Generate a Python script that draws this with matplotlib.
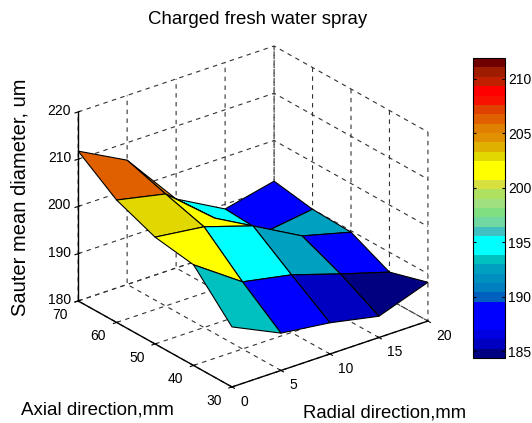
import numpy as np
import matplotlib
matplotlib.use("Agg")
import matplotlib.pyplot as plt
from matplotlib.colors import ListedColormap, Normalize
from matplotlib.cm import ScalarMappable

radial = [0, 5, 10, 15, 20]
axial = [30, 40, 50, 60, 70]
# one row per axial station
diameter = [
    [192.7, 187.9, 186.6, 184.5, 188.2],
    [201.3, 194.2, 192.2, 188.9, 185.8],
    [202.6, 201.3, 198.0, 192.4, 189.7],
    [205.9, 203.7, 195.1, 188.5, 190.0],
    [211.7, 206.3, 194.6, 189.0, 191.4],
]
# colour of each patch
patch_value = [
    [193.4, 188.7, 185.6, 184.8],
    [201.6, 194.7, 192.5, 188.7],
    [202.9, 201.6, 192.0, 192.5],
    [206.3, 205.5, 194.7, 188.7],
]
zticks = [180, 190, 200, 210, 220]
cticks = [185, 190, 195, 200, 205, 210]
cmin = 184.4
cmax = 211.9

# colorbar bands bottom to top
bands = ['#000080', '#0000c0', '#0000e0', '#0000ff', '#0000ff', '#0000ff', '#0060c0', '#0080c0',
         '#0090c0', '#00a0c0', '#00c0c0', '#00ffff', '#00ffff', '#40c0c0', '#70d8a0', '#80e080',
         '#a0e080', '#b0e060', '#d8e040', '#ffff00', '#ffff00', '#e0d800', '#e0b000', '#e09000',
         '#e08000', '#e06000', '#e04000', '#f81000', '#ff0000', '#c02000', '#a01c00', '#700000']

plt.rcParams['font.family'] = ['Liberation Sans', 'DejaVu Sans']
plt.rcParams['grid.linestyle'] = (0, (4, 4))
plt.rcParams['grid.color'] = '#333333'
plt.rcParams['grid.linewidth'] = 0.8

W = 532.0
H = 423.0
fig = plt.figure(figsize=(W / 100, H / 100), dpi=100)
cmap = ListedColormap(bands)
norm = Normalize(cmin, cmax)

side = 398.5
ax = fig.add_axes([48.4 / W, 1.9 / H, side / W, side / H], projection='3d', proj_type='ortho')
ax.view_init(elev=25.7, azim=-127.8)
ax.set_box_aspect((248, 251, 209.8))

X, Y = np.meshgrid(radial, axial)
Z = np.array(diameter)
ax.plot_surface(X, Y, Z, facecolors=cmap(norm(np.array(patch_value))), edgecolor='black',
                linewidth=0.8, shade=False, rstride=1, cstride=1, antialiased=True)

ax.set_xlim(0, 20)
ax.set_ylim(30, 70)
ax.set_zlim(180, 220)
ax.set_xticks(radial)
ax.set_yticks(axial)
ax.set_zticks(zticks)
ax.zaxis.set_ticks_position('upper')
ax.zaxis.set_label_position('upper')
for a in [ax.xaxis, ax.yaxis, ax.zaxis]:
    a.pane.set_facecolor('white')
    a.pane.set_edgecolor('white')
    a.line.set_color('black')
    a.line.set_linewidth(1.0)
ax.tick_params(labelsize=10, pad=0)

for lab in ax.xaxis.get_ticklabels():
    lab.set_ha('left')
    lab.set_va('center')
for lab in ax.yaxis.get_ticklabels():
    lab.set_ha('right')
    lab.set_va('center')
for lab in ax.zaxis.get_ticklabels():
    lab.set_va('center')

fig.text(257.5 / W, 1 - 20 / H, 'Charged fresh water spray', ha='center', va='center', fontsize=13.4)
fig.text(20 / W, 1 - 197.5 / H, 'Sauter mean diameter, um', rotation=90, ha='center', va='center', fontsize=14.5)
fig.text(97 / W, 1 - 410 / H, 'Axial direction,mm', ha='center', va='center', fontsize=13.5)
fig.text(385 / W, 1 - 413 / H, 'Radial direction,mm', ha='center', va='center', fontsize=13.3)

cax = fig.add_axes([473 / W, 1 - 358 / H, 32 / W, 300 / H])
cb = fig.colorbar(ScalarMappable(norm=norm, cmap=cmap), cax=cax)
cb.set_ticks(cticks)
cb.ax.tick_params(labelsize=10, length=2, width=0.8, direction='in', left=True, right=True, pad=2)
cb.outline.set_linewidth(0.8)

fig.savefig('out.png', dpi=100)
